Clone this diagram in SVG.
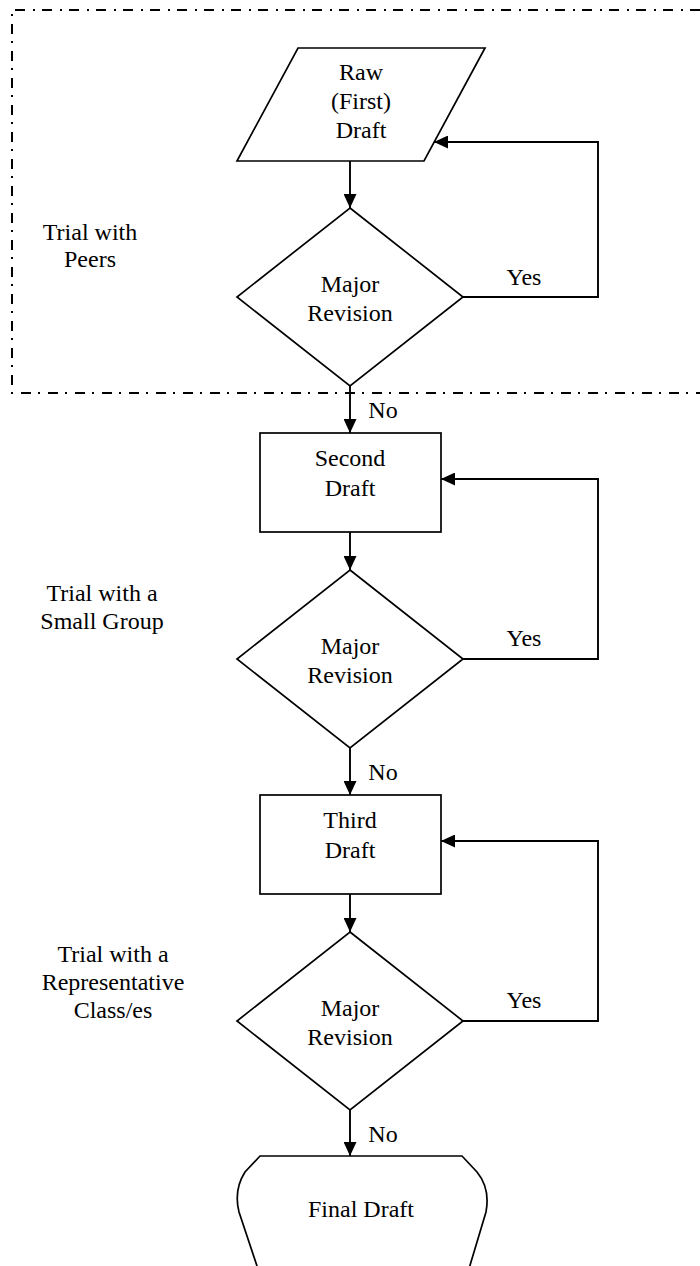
<svg xmlns="http://www.w3.org/2000/svg" width="700" height="1266" viewBox="0 0 700 1266">
<style>
.s{fill:#fff;stroke:#000;stroke-width:1.7}
.c{fill:none;stroke:#000;stroke-width:1.9}
.t{font-family:"Liberation Serif","Times New Roman",serif;font-size:24px;fill:#000;text-anchor:middle}
.b{fill:none;stroke:#000;stroke-width:2;stroke-dasharray:10 7 2 8}
</style>
<defs>
<marker id="ah" markerUnits="userSpaceOnUse" markerWidth="14" markerHeight="13" refX="14" refY="6.5" orient="auto">
<path d="M0,0 L14,6.5 L0,13 Z" fill="#000"/>
</marker>
</defs>
<path class="b" d="M700,10 H12 V393 H700"/>
<g id="labels">
<text class="t" x="90" y="240">Trial with</text>
<text class="t" x="90" y="267">Peers</text>
<text class="t" x="102" y="601">Trial with a</text>
<text class="t" x="102" y="629">Small Group</text>
<text class="t" x="113" y="962">Trial with a</text>
<text class="t" x="113" y="990">Representative</text>
<text class="t" x="113" y="1018">Class/es</text>
</g>
<g id="connectors">
<path class="c" d="M350,161 V208" marker-end="url(#ah)"/>
<path class="c" d="M350,386 V433" marker-end="url(#ah)"/>
<path class="c" d="M350,532 V570" marker-end="url(#ah)"/>
<path class="c" d="M350,748 V795" marker-end="url(#ah)"/>
<path class="c" d="M350,894 V932" marker-end="url(#ah)"/>
<path class="c" d="M350,1110 V1156" marker-end="url(#ah)"/>
<path class="c" d="M463,297 H598 V142 H434" marker-end="url(#ah)"/>
<path class="c" d="M463,659 H598 V479 H441" marker-end="url(#ah)"/>
<path class="c" d="M463,1021 H598 V841 H441" marker-end="url(#ah)"/>
<text class="t" x="524" y="285">Yes</text>
<text class="t" x="524" y="646">Yes</text>
<text class="t" x="524" y="1008">Yes</text>
<text class="t" x="383" y="418">No</text>
<text class="t" x="383" y="780">No</text>
<text class="t" x="383" y="1142">No</text>
</g>
<g id="raw">
<path class="s" d="M298,48 H485 L424,161 H237 Z"/>
<text class="t" x="361" y="80">Raw</text>
<text class="t" x="361" y="109">(First)</text>
<text class="t" x="361" y="138">Draft</text>
</g>
<g id="decision1">
<path class="s" d="M350,208 L463,297 L350,386 L237,297 Z"/>
<text class="t" x="350" y="292">Major</text>
<text class="t" x="350" y="321">Revision</text>
</g>
<g id="second">
<rect class="s" x="260" y="433" width="181" height="99"/>
<text class="t" x="350" y="466">Second</text>
<text class="t" x="350" y="496">Draft</text>
</g>
<g id="decision2">
<path class="s" d="M350,570 L463,659 L350,748 L237,659 Z"/>
<text class="t" x="350" y="654">Major</text>
<text class="t" x="350" y="683">Revision</text>
</g>
<g id="third">
<rect class="s" x="260" y="795" width="181" height="99"/>
<text class="t" x="350" y="828">Third</text>
<text class="t" x="350" y="858">Draft</text>
</g>
<g id="decision3">
<path class="s" d="M350,932 L463,1021 L350,1110 L237,1021 Z"/>
<text class="t" x="350" y="1016">Major</text>
<text class="t" x="350" y="1045">Revision</text>
</g>
<g id="final">
<path class="s" d="M260,1156 H462 L477,1172 C486,1183 489,1196 486,1212 L468,1272 H259 L239,1212 C235,1196 238,1183 245,1172 Z"/>
<text class="t" x="361" y="1217">Final Draft</text>
</g>
</svg>
